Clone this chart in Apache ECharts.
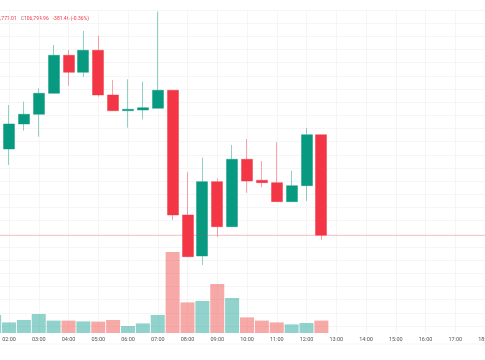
<!DOCTYPE html>
<html>
<head>
<meta charset="utf-8">
<script src="https://cdn.jsdelivr.net/npm/echarts@6/dist/echarts.min.js"></script>
<style>html,body{margin:0;padding:0;background:#fff}#c{width:485px;height:360px}</style>
</head>
<body>
<div id="c"></div>
<script>
// 30-minute candles (BTC-like price)
const times = ['01:30','02:00','02:30','03:00','03:30','04:00','04:30','05:00','05:30','06:00','06:30','07:00','07:30','08:00','08:30','09:00','09:30','10:00','10:30','11:00','11:30','12:00','12:30'];
const opens = [null,107122.2,107217.1,107254.0,107333.7,107478.0,107413.4,107497.0,107327.3,107267.6,107270.3,107276.8,107345.1,106871.6,106715.9,106998.1,106827.2,107083.1,107003.4,106994.3,106922.1,106982.9,107176.42];
const closes = [null,107217.1,107254.0,107333.7,107478.0,107413.4,107497.0,107327.3,107267.6,107273.0,107279.0,107345.1,106871.6,106713.3,106998.1,106827.2,107083.1,107000.7,106994.3,106922.1,106982.9,107176.42,106794.96];
const lows = [null,107061.5,107191.7,107168.9,107331.0,107362.6,107395.6,107320.8,107266.0,107203.1,107235.0,107276.0,106852.6,106712.0,106681.8,106789.2,106826.0,106956.3,106976.8,106921.0,106921.5,106924.8,106777.01];
const highs = [null,107289.3,107301.8,107352.7,107517.1,107498.1,107570.3,107552.4,107384.2,107386.9,107377.8,107644.3,107345.1,107033.7,107089.2,107011.0,107137.4,107160.2,107076.7,107147.7,107039.8,107202.0,107176.42];
const volumes = [90,53,65,95,62,62,58,57,65,35,48,90,405,153,160,245,175,78,62,53,43,50,62];
const volumeUp = [1,1,1,1,1,0,1,0,0,1,1,1,0,0,1,0,1,0,0,0,1,1,0];
const hourTicks = [1,2,3,4,5,6,7,8,9,10,11,12,13,14,15,16,17,18];
const lastClose = 106794.96;
const headerLow = '106,777.01';
const headerClose = '106,794.96';
const headerChange = '-381.46 (-0.36%)';

const toH = t => { const p = t.split(':'); return +p[0] + (+p[1]) / 60; };
const candleData = [];
times.forEach((t, i) => {
  if (opens[i] !== null) candleData.push([toH(t), opens[i], closes[i], lows[i], highs[i]]);
});
const UP = '#089981', DOWN = '#f23645';
const volData = times.map((t, i) => ({
  value: [toH(t), volumes[i]],
  itemStyle: { color: volumeUp[i] ? 'rgba(38,166,154,0.5)' : 'rgba(239,83,80,0.5)' }
}));
const GRID = '#f5f5f6';
const FONT = 'Roboto, sans-serif';

const chart = echarts.init(document.getElementById('c'), null, { renderer: 'canvas' });
chart.setOption({
  animation: false,
  backgroundColor: '#ffffff',
  grid: [
    { left: -20.75, right: 0, top: 10, bottom: 34, containLabel: false, outerBoundsMode: 'none' },
    { left: -20.75, right: 0, top: 133, bottom: 27, containLabel: false, outerBoundsMode: 'none' }
  ],
  xAxis: [
    { type: 'value', gridIndex: 0, min: hourTicks[0], max: hourTicks[hourTicks.length - 1], interval: 1,
      axisLine: { show: false }, axisTick: { show: false }, axisLabel: { show: false },
      splitLine: { show: true, lineStyle: { color: GRID, width: 1 } } },
    { type: 'value', gridIndex: 1, min: hourTicks[0], max: hourTicks[hourTicks.length - 1], interval: 1,
      axisLine: { show: false }, axisTick: { show: false },
      axisLabel: { show: true, fontSize: 5.5, fontFamily: FONT, color: '#555', margin: 3.5,
        showMinLabel: true, showMaxLabel: true, hideOverlap: false,
        formatter: v => (v < 10 ? '0' : '') + v + ':00' },
      splitLine: { show: true, lineStyle: { color: GRID, width: 1 } } }
  ],
  yAxis: [
    { type: 'value', gridIndex: 0, min: 106450, max: 107650, interval: 50,
      axisLine: { show: false }, axisTick: { show: false }, axisLabel: { show: false },
      splitLine: { show: true, lineStyle: { color: GRID, width: 1 } } },
    { type: 'value', gridIndex: 1, min: 0, max: 1000,
      axisLine: { show: false }, axisTick: { show: false }, axisLabel: { show: false },
      splitLine: { show: false } }
  ],
  series: [
    { type: 'bar', xAxisIndex: 1, yAxisIndex: 1, data: volData, barWidth: 14, z: 2, silent: true },
    { type: 'candlestick', xAxisIndex: 0, yAxisIndex: 0, data: candleData, barWidth: 11.5, z: 3,
      encode: { x: 0, y: [1, 2, 3, 4] },
      itemStyle: { color: UP, color0: DOWN, borderColor: 'rgba(8,153,129,0.45)', borderColor0: 'rgba(242,54,69,0.45)', borderWidth: 1 },
      markLine: { silent: true, symbol: 'none', label: { show: false },
        lineStyle: { color: 'rgba(242,54,69,0.28)', type: 'solid', width: 1 },
        data: [{ yAxis: lastClose }] } }
  ],
  graphic: [
    { type: 'text', x: 16.7, y: 18.3, silent: true,
      style: { text: '{g|L}{r|' + headerLow + '}', align: 'right', verticalAlign: 'middle', font: '5px ' + FONT,
        rich: { g: { fill: '#787b86', fontSize: 5, fontFamily: FONT }, r: { fill: '#f23645', fontSize: 5, fontFamily: FONT } } } },
    { type: 'text', x: 20.7, y: 18.3, silent: true,
      style: { text: '{g|C}{r|' + headerClose + '}', align: 'left', verticalAlign: 'middle', font: '5px ' + FONT,
        rich: { g: { fill: '#787b86', fontSize: 5, fontFamily: FONT }, r: { fill: '#f23645', fontSize: 5, fontFamily: FONT } } } },
    { type: 'text', x: 52.7, y: 18.3, silent: true,
      style: { text: headerChange, fill: '#f23645', align: 'left', verticalAlign: 'middle', font: '5px ' + FONT } },
    { type: 'rect', shape: { x: 0, y: 343.5, width: 485, height: 1 }, silent: true, style: { fill: '#f5f5f6' } }
  ]
});
</script>
</body>
</html>
